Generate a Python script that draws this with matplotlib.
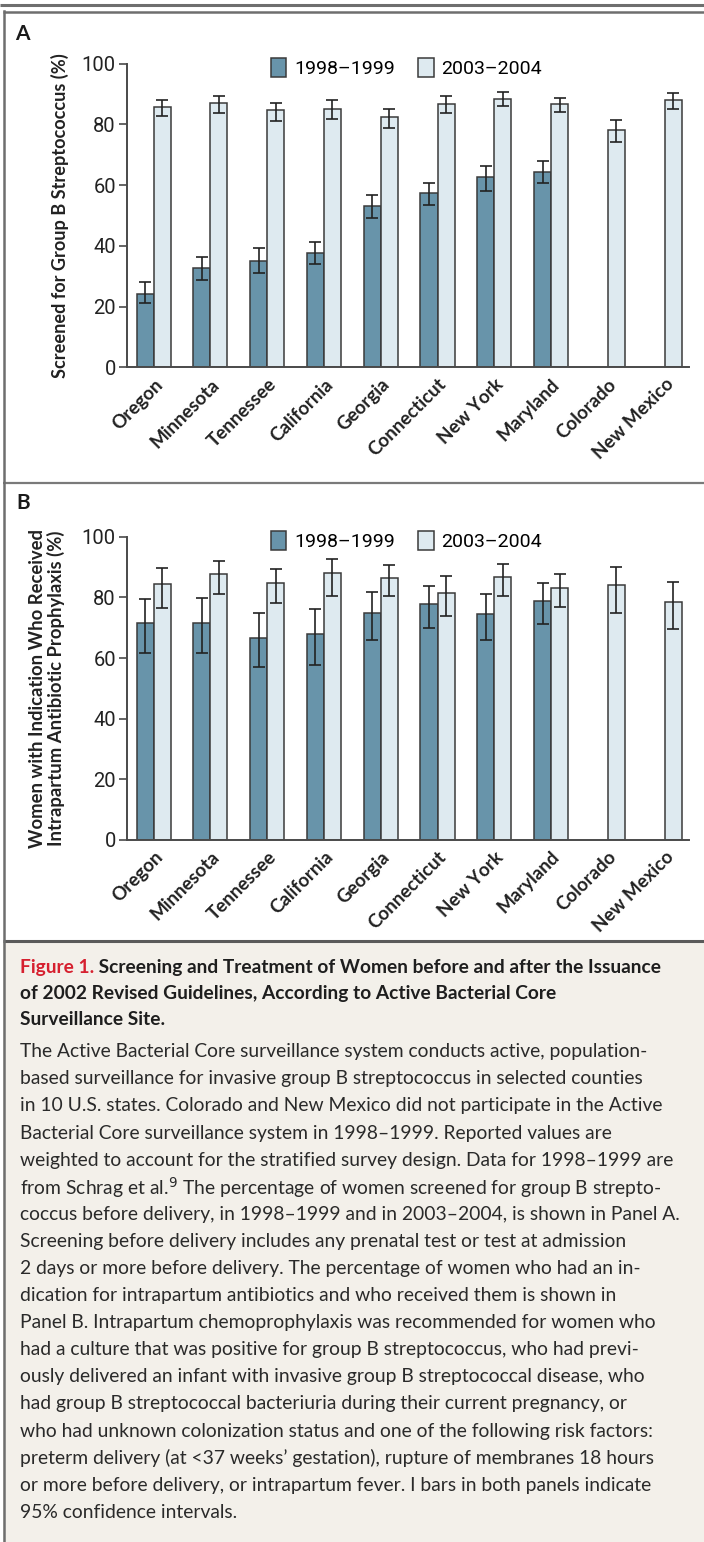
import numpy as np
import matplotlib
matplotlib.use("Agg")
import matplotlib.pyplot as plt
from matplotlib.patches import Patch, Rectangle
from matplotlib.lines import Line2D
from matplotlib import font_manager

# ---------------- data ----------------
states = ["Oregon", "Minnesota", "Tennessee", "California", "Georgia",
          "Connecticut", "New York", "Maryland", "Colorado", "New Mexico"]
series_labels = ["1998\u20131999", "2003\u20132004"]

# Panel A: screened for GBS (%)
a_9899 = [24.2, 32.7, 35.0, 37.6, 53.0, 57.4, 62.6, 64.4, np.nan, np.nan]
a_9899_lo = [21.2, 28.9, 31.2, 34.0, 49.2, 53.6, 58.1, 60.6, np.nan, np.nan]
a_9899_hi = [28.0, 36.4, 39.2, 41.2, 56.9, 60.6, 66.3, 68.1, np.nan, np.nan]
a_0304 = [85.7, 87.1, 84.7, 85.2, 82.4, 86.7, 88.5, 86.7, 78.1, 88.1]
a_0304_lo = [82.9, 83.7, 81.3, 81.7, 78.9, 83.7, 86.1, 84.1, 74.1, 85.2]
a_0304_hi = [88.2, 89.5, 87.1, 88.1, 85.2, 89.4, 90.8, 88.8, 81.4, 90.4]

# Panel B: received intrapartum antibiotic prophylaxis (%)
b_9899 = [71.4, 71.4, 66.5, 67.8, 74.7, 77.7, 74.4, 78.8, np.nan, np.nan]
b_9899_lo = [61.6, 61.5, 57.0, 57.7, 65.9, 70.0, 65.8, 71.2, np.nan, np.nan]
b_9899_hi = [79.6, 79.7, 74.7, 76.3, 81.8, 83.8, 81.2, 84.8, np.nan, np.nan]
b_0304 = [84.3, 87.6, 84.7, 87.9, 86.4, 81.3, 86.8, 83.2, 84.0, 78.4]
b_0304_lo = [76.6, 81.0, 78.2, 80.6, 80.3, 73.7, 80.3, 76.8, 74.7, 69.7]
b_0304_hi = [89.8, 92.1, 89.4, 92.6, 90.8, 87.0, 91.1, 87.8, 90.1, 85.1]

yticks = [0, 20, 40, 60, 80, 100]

ylabel_a = "Screened for Group B Streptococcus (%)"
ylabel_b = "Women with Indication Who Received\nIntrapartum Antibiotic Prophylaxis (%)"

caption_title_red = "Figure 1."
caption_title = [" Screening and Treatment of Women before and after the Issuance",
                 "of 2002 Revised Guidelines, According to Active Bacterial Core",
                 "Surveillance Site."]
caption_body = [
    "The Active Bacterial Core surveillance system conducts active, population-",
    "based surveillance for invasive group B streptococcus in selected counties",
    "in 10 U.S. states. Colorado and New Mexico did not participate in the Active",
    "Bacterial Core surveillance system in 1998\u20131999. Reported values are",
    "weighted to account for the stratified survey design. Data for 1998\u20131999 are",
    "from Schrag et al.$^{9}$ The percentage of women screened for group B strepto-",
    "coccus before delivery, in 1998\u20131999 and in 2003\u20132004, is shown in Panel A.",
    "Screening before delivery includes any prenatal test or test at admission",
    "2 days or more before delivery. The percentage of women who had an in-",
    "dication for intrapartum antibiotics and who received them is shown in",
    "Panel B. Intrapartum chemoprophylaxis was recommended for women who",
    "had a culture that was positive for group B streptococcus, who had previ-",
    "ously delivered an infant with invasive group B streptococcal disease, who",
    "had group B streptococcal bacteriuria during their current pregnancy, or",
    "who had unknown colonization status and one of the following risk factors:",
    "preterm delivery (at <37 weeks\u2019 gestation), rupture of membranes 18 hours",
    "or more before delivery, or intrapartum fever. I bars in both panels indicate",
    "95% confidence intervals.",
]

# ---------------- style ----------------
installed = {f.name for f in font_manager.fontManager.ttflist}
def pick(*names):
    for n in names:
        if n in installed:
            return n
    return "DejaVu Sans"

F_COND = pick("Liberation Sans Narrow", "Roboto", "Lato")
F_BOLD = pick("Lato", "Open Sans", "Noto Sans")
F_TEXT = pick("Lato", "Open Sans", "Noto Sans")

DARK = "#6894aa"
LIGHT = "#deeaf0"
EDGE = "#3a3a3a"
AXC = "#4a4a4a"
FRAME = "#6e6e6e"
BEIGE = "#f3f0ea"
RED = "#d6202f"

W, H = 704, 1542
fig = plt.figure(figsize=(W / 100, H / 100), dpi=100)
fig.patch.set_facecolor("white")

def fx(x):
    return x / W
def fy(y):
    return 1 - y / H

# caption background
fig.patches.append(Rectangle((fx(3), 0), 1 - fx(3), fy(941), transform=fig.transFigure,
                             facecolor=BEIGE, edgecolor="none", zorder=0))
# frame lines
def hline(y, x0, x1, lw, c=FRAME):
    fig.lines.append(Line2D([fx(x0), fx(x1)], [fy(y), fy(y)], transform=fig.transFigure,
                            color=c, lw=lw, solid_capstyle="butt"))
hline(5, 0, W, 2.2)
hline(12, 3, W, 1.8)
hline(482.5, 3, W, 1.6, "#7a7a7a")
hline(941, 3, W, 2.2, "#5a5a5a")
fig.lines.append(Line2D([fx(3.5), fx(3.5)], [fy(11), 0], transform=fig.transFigure,
                        color=FRAME, lw=1.8))

fig.text(fx(15), fy(34), "A", fontsize=15, fontweight="bold", family=F_BOLD,
         ha="left", va="center", color="#1a1a1a")
fig.text(fx(16), fy(503), "B", fontsize=15, fontweight="bold", family=F_BOLD,
         ha="left", va="center", color="#1a1a1a")

x = np.arange(len(states))
bw = 0.3

def panel(rect, v1, lo1, hi1, v2, lo2, hi2):
    ax = fig.add_axes(rect)
    v1 = np.array(v1, float); v2 = np.array(v2, float)
    m1 = ~np.isnan(v1)
    ax.bar(x[m1] - bw / 2, v1[m1], bw, color=DARK, edgecolor=EDGE, linewidth=1.1, zorder=2)
    ax.bar(x + bw / 2, v2, bw, color=LIGHT, edgecolor=EDGE, linewidth=1.1, zorder=2)
    e1 = np.vstack([v1[m1] - np.array(lo1, float)[m1], np.array(hi1, float)[m1] - v1[m1]])
    e2 = np.vstack([v2 - np.array(lo2, float), np.array(hi2, float) - v2])
    ax.errorbar(x[m1] - bw / 2, v1[m1], yerr=e1, fmt="none", ecolor="#222222",
                elinewidth=1.2, capsize=4, capthick=1.2, zorder=3)
    ax.errorbar(x + bw / 2, v2, yerr=e2, fmt="none", ecolor="#222222",
                elinewidth=1.2, capsize=4, capthick=1.2, zorder=3)
    ax.set_xlim(-0.47, 9.43)
    ax.set_ylim(0, 100)
    ax.set_yticks(yticks)
    ax.set_yticklabels([str(t) for t in yticks], family=F_COND, fontsize=14.5, color="#222")
    ax.set_xticks(x)
    ax.set_xticklabels(states, rotation=45, ha="right", va="top", rotation_mode="anchor",
                       family=F_BOLD, fontweight="bold", fontsize=13.5, color="#222")
    ax.tick_params(axis="x", length=0, pad=6)
    ax.tick_params(axis="y", length=6, width=1.2, color=AXC, pad=2)
    for s in ["top", "right"]:
        ax.spines[s].set_visible(False)
    for s in ["left", "bottom"]:
        ax.spines[s].set_color(AXC)
        ax.spines[s].set_linewidth(1.4)
    ax.patch.set_alpha(0)
    handles = [Patch(facecolor=DARK, edgecolor=EDGE, linewidth=1.1),
               Patch(facecolor=LIGHT, edgecolor=EDGE, linewidth=1.1)]
    ax.legend(handles, series_labels, ncol=2, loc="center", bbox_to_anchor=(0.497, 0.986),
              frameon=False, prop={"family": F_COND, "size": 14},
              handlelength=0.8, handleheight=1.15, handletextpad=0.4, columnspacing=1.2,
              borderaxespad=0, borderpad=0)
    return ax

axA = panel([fx(127), fy(367.3), fx(689) - fx(127), fy(63.8) - fy(367.3)],
            a_9899, a_9899_lo, a_9899_hi, a_0304, a_0304_lo, a_0304_hi)
axB = panel([fx(127), fy(840), fx(689) - fx(127), fy(536.7) - fy(840)],
            b_9899, b_9899_lo, b_9899_hi, b_0304, b_0304_lo, b_0304_hi)

fig.text(fx(59.5), fy(216), ylabel_a, rotation=90, ha="center", va="center",
         family=F_BOLD, fontweight="bold", fontsize=13.1, color="#222")
fig.text(fx(47), fy(688), ylabel_b, rotation=90, ha="center", va="center",
         family=F_BOLD, fontweight="bold", fontsize=13.3, color="#222",
         multialignment="center", linespacing=1.05)

# caption
title_y = [967, 993, 1019.5]
TS = 13.8
t = fig.text(fx(20), fy(title_y[0]), caption_title_red, color=RED, family=F_BOLD,
             fontweight="bold", fontsize=TS, ha="left", va="center")
fig.canvas.draw()
bb = t.get_window_extent()
fig.text(bb.x1 / W, fy(title_y[0]), caption_title[0], color="#1e1e1e", family=F_BOLD,
         fontweight="bold", fontsize=TS, ha="left", va="center")
for yy, line in zip(title_y[1:], caption_title[1:]):
    fig.text(fx(20), fy(yy), line, color="#1e1e1e", family=F_BOLD, fontweight="bold",
             fontsize=TS, ha="left", va="center")

body_y0 = 1051.7
for i, line in enumerate(caption_body):
    fig.text(fx(20), fy(body_y0 + i * 27.1), line, color="#2a2a2a", family=F_TEXT,
             fontsize=13.9, ha="left", va="center")

fig.savefig("out.png", dpi=100, facecolor="white")
